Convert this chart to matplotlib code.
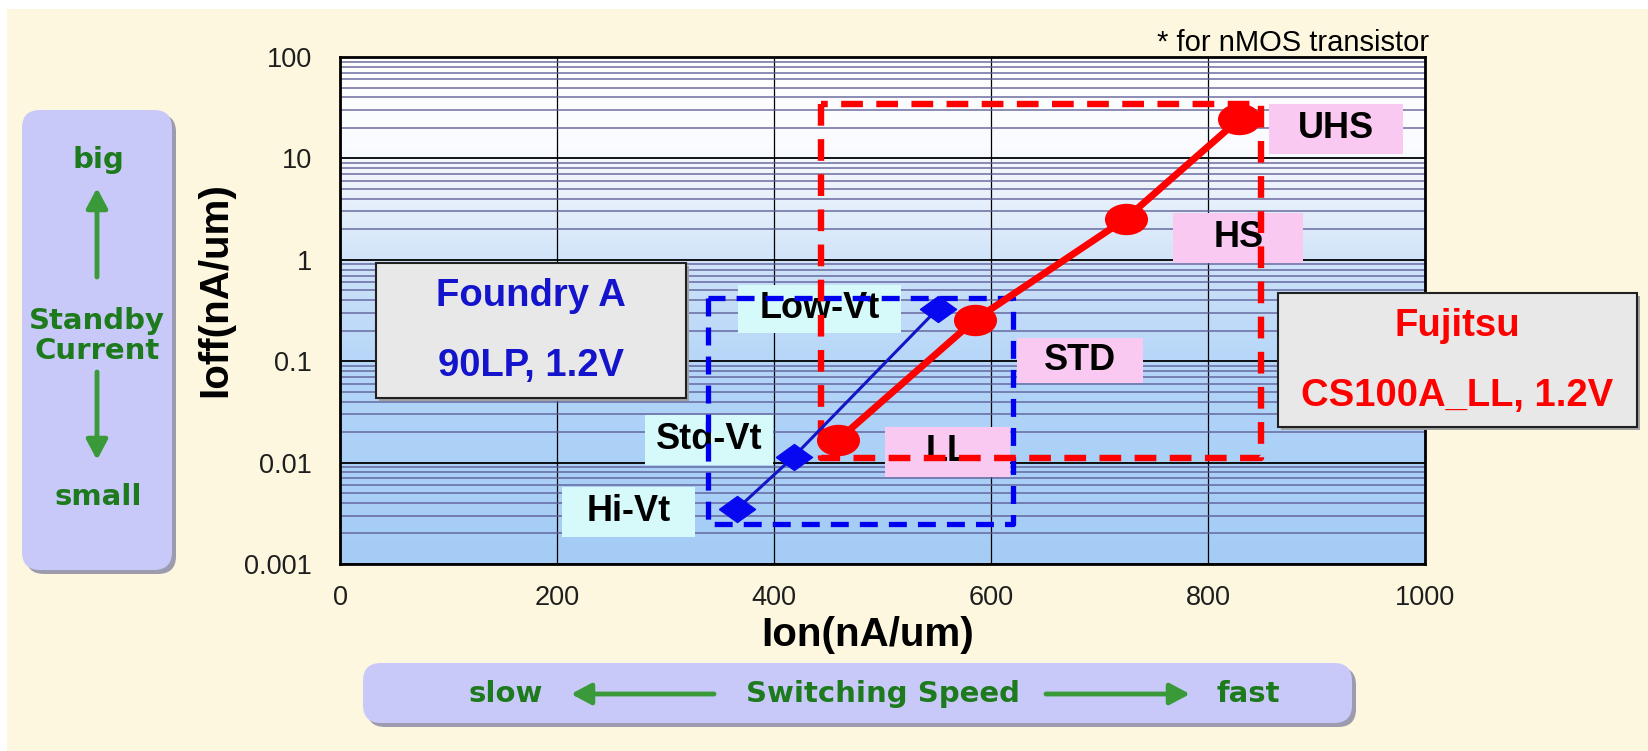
import numpy as np
import matplotlib
matplotlib.use('Agg')
import matplotlib.pyplot as plt
from matplotlib.patches import FancyBboxPatch, Rectangle, FancyArrowPatch
from matplotlib.path import Path
from matplotlib.colors import LinearSegmentedColormap
from matplotlib.transforms import IdentityTransform

# Foundry A (blue) and Fujitsu (red) nMOS points
fa_labels = ['Hi-Vt', 'Std-Vt', 'Low-Vt']
fa_ion = [366, 418, 551]
fa_ioff = [0.0035, 0.0114, 0.33]

fj_labels = ['LL', 'STD', 'HS', 'UHS']
fj_ion = [459, 585, 724, 829]
fj_ioff = [0.0167, 0.255, 2.53, 24.5]

# dashed windows: (ion min, ion max), (ioff min, ioff max)
fa_win_ion = [339, 620]
fa_win_ioff = [0.0025, 0.42]
fj_win_ion = [443, 849]
fj_win_ioff = [0.0111, 34.4]

x_ticks = [0, 200, 400, 600, 800, 1000]
y_ticks = [0.001, 0.01, 0.1, 1, 10, 100]
y_ticklabels = ['0.001', '0.01', '0.1', '1', '10', '100']

W, H = 1648, 751
CREAM = '#fdf7df'
LAV = '#c9c9f9'
GREEN_TXT = '#1d7a1d'
GREEN_ARR = '#3a9a3a'
NARROW = ['Liberation Sans Narrow', 'Liberation Sans', 'DejaVu Sans']
BOLD = ['Liberation Sans', 'DejaVu Sans']

fig = plt.figure(figsize=(W / 100, H / 100), dpi=100)
fig.patch.set_facecolor('white')


def px(x, y):
    return x / W, 1 - y / H


def pix_box(x0, y0, x1, y1, **kw):
    # box given in image pixel coords (y down)
    return FancyBboxPatch((x0, H - y1), x1 - x0, y1 - y0,
                          transform=IdentityTransform(), **kw)


def arrow(p0, p1):
    fig.add_artist(FancyArrowPatch((p0[0], H - p0[1]), (p1[0], H - p1[1]),
                                   transform=IdentityTransform(),
                                   arrowstyle='-|>,head_length=0.6,head_width=0.32',
                                   mutation_scale=20, lw=3.5, color=GREEN_ARR,
                                   shrinkA=0, shrinkB=0, zorder=4))


# cream backdrop
fig.add_artist(Rectangle((7 / W, 0), 1, 1 - 9 / H, transform=fig.transFigure,
                         fc=CREAM, ec='none', zorder=-10))

# left and bottom lavender panels with a soft shadow
for x0, y0, x1, y1 in [(22, 110, 172, 570), (363, 663, 1352, 723)]:
    fig.add_artist(pix_box(x0 + 4, y0 + 4, x1 + 4, y1 + 4,
                           boxstyle='round,pad=0,rounding_size=18',
                           fc='#9c9cae', ec='none', zorder=1))
    fig.add_artist(pix_box(x0, y0, x1, y1, boxstyle='round,pad=0,rounding_size=18',
                           fc=LAV, ec='none', zorder=2))

gtxt = dict(color=GREEN_TXT, fontweight='bold', family='DejaVu Sans',
            ha='center', va='center', zorder=5)
fig.text(*px(98, 160), 'big', fontsize=21, **gtxt)
fig.text(*px(97, 336), 'Standby\nCurrent', fontsize=21, linespacing=1.05, **gtxt)
fig.text(*px(98, 497), 'small', fontsize=21, **gtxt)
arrow((97, 277), (97, 188))
arrow((97, 372), (97, 460))

fig.text(*px(506, 694), 'slow', fontsize=21, **gtxt)
fig.text(*px(883, 694), 'Switching Speed', fontsize=21, **gtxt)
fig.text(*px(1248, 694), 'fast', fontsize=21, **gtxt)
arrow((714, 694), (571, 694))
arrow((1046, 694), (1190, 694))

# main axes
ax = fig.add_axes([340 / W, 1 - 564 / H, 1085 / W, 507 / H])
cmap = LinearSegmentedColormap.from_list('bg', [
    (0.0, '#a4ccf5'), (0.35, '#b1d4f8'), (0.55, '#c8dff9'),
    (0.7, '#e4eefb'), (0.82, '#f9fbfe'), (1.0, '#ffffff')])
ax.imshow(np.linspace(0, 1, 256)[:, None], cmap=cmap, extent=[0, 1, 0, 1],
          transform=ax.transAxes, aspect='auto', origin='lower', zorder=0)

ax.set_yscale('log')
ax.set_xlim(0, 1000)
ax.set_ylim(1e-3, 1e2)
ax.set_xticks(x_ticks)
ax.set_xticklabels([str(v) for v in x_ticks])
ax.set_yticks(y_ticks)
ax.set_yticklabels(y_ticklabels)
ax.yaxis.set_minor_locator(matplotlib.ticker.LogLocator(subs=np.arange(2, 10)))
ax.yaxis.set_minor_formatter(matplotlib.ticker.NullFormatter())
ax.grid(which='minor', axis='y', color='#5c5c96', lw=1.4, alpha=0.7)
ax.grid(which='major', axis='y', color='black', lw=1.3)
ax.grid(which='major', axis='x', color='black', lw=0.9)
ax.tick_params(which='both', length=0)
ax.tick_params(axis='y', pad=20)
ax.tick_params(axis='x', pad=15)
for lab in ax.get_xticklabels() + ax.get_yticklabels():
    lab.set_family(NARROW)
    lab.set_fontsize(19.5)
    lab.set_color('#1e1e1e')
for sp in ax.spines.values():
    sp.set_linewidth(2)
    sp.set_color('black')

ax.set_xlabel('Ion(nA/um)', fontsize=29, fontweight='bold', family=BOLD, va='center')
ax.xaxis.set_label_coords((868 - 340) / 1085, (564 - 635) / 507)
ax.set_ylabel('Ioff(nA/um)', fontsize=29, fontweight='bold', family=BOLD, va='center')
ax.yaxis.set_label_coords((215 - 340) / 1085, (564 - 290) / 507)

# point labels (centre in axes fraction, width, height)
fa_boxes = [(0.266, 0.103, 0.122, 0.099), (0.340, 0.245, 0.118, 0.099),
            (0.442, 0.503, 0.151, 0.095)]
fj_boxes = [(0.560, 0.221, 0.115, 0.099), (0.682, 0.402, 0.116, 0.089),
            (0.828, 0.643, 0.120, 0.100), (0.918, 0.858, 0.123, 0.099)]
for labels, boxes, fc in [(fa_labels, fa_boxes, '#d6f9f9'), (fj_labels, fj_boxes, '#f9c9f1')]:
    for lab, (xc, yc, w, h) in zip(labels, boxes):
        ax.add_patch(Rectangle((xc - w / 2, yc - h / 2), w, h, transform=ax.transAxes,
                               fc=fc, ec='none', zorder=2, clip_on=False))
        ax.text(xc, yc, lab, transform=ax.transAxes, ha='center', va='center',
                fontsize=26, fontweight='bold', family=BOLD, color='black', zorder=3)

# dashed windows
for (x0, x1), (y0, y1), col, lw in [(fa_win_ion, fa_win_ioff, '#0000f0', 3.8),
                                    (fj_win_ion, fj_win_ioff, '#ff0000', 4.6)]:
    ax.plot([x0, x0, x1, x1, x0], [y1, y0, y0, y1, y1], color=col, lw=lw,
            ls=(0, (3.4, 2.1)), zorder=4, solid_capstyle='butt')

diamond = Path([(-1, 0), (0, 0.72), (1, 0), (0, -0.72), (-1, 0)])
ellipse = Path(Path.unit_circle().vertices * [1, 0.72], Path.unit_circle().codes)

ax.plot(fa_ion, fa_ioff, color='#1414c8', lw=2.2, zorder=5)
ax.plot(fa_ion, fa_ioff, ls='none', marker=diamond, ms=26, color='#0808f0', zorder=6)
ax.plot(fj_ion, fj_ioff, color='#ff0000', lw=5, zorder=5)
ax.plot(fj_ion, fj_ioff, ls='none', marker=ellipse, ms=30, color='#ff0000', zorder=6)

# company boxes
for (x0, y0, x1, y1), t1, t2, col in [
        ((376, 263, 686, 398), 'Foundry A', '90LP, 1.2V', '#1414cc'),
        ((1278, 293, 1637, 427), 'Fujitsu', 'CS100A_LL, 1.2V', '#ff0000')]:
    fig.add_artist(pix_box(x0 + 3, y0 + 3, x1 + 3, y1 + 3, boxstyle='square,pad=0',
                           fc='#a0a0a0', ec='none', zorder=3))
    fig.add_artist(pix_box(x0, y0, x1, y1, boxstyle='square,pad=0',
                           fc='#e8e8e8', ec='#202020', lw=1.5, zorder=4))
    cx = (x0 + x1) / 2
    fig.text(*px(cx, y0 + 33), t1, color=col, fontsize=27.5, fontweight='bold',
             family=BOLD, ha='center', va='center', zorder=5)
    fig.text(*px(cx, y0 + 103), t2, color=col, fontsize=27.5, fontweight='bold',
             family=BOLD, ha='center', va='center', zorder=5)

fig.text(*px(1429, 43), '* for nMOS transistor', fontsize=21, family=BOLD,
         ha='right', va='center', color='black')

fig.savefig('out.png', dpi=100, facecolor=fig.get_facecolor())
